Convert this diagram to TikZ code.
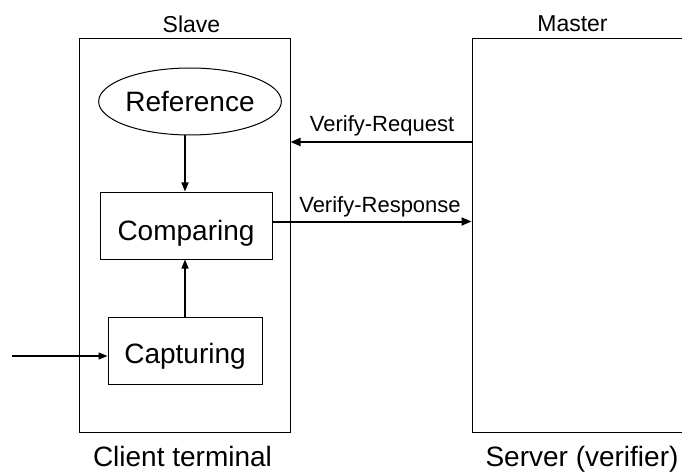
\documentclass[tikz,border=0pt]{standalone}
\usepackage{fontspec}
\setmainfont{Liberation Sans}
\usetikzlibrary{arrows.meta,shapes.geometric}
\begin{document}
\begin{tikzpicture}[x=1pt,y=-1pt,
  big/.style={font=\fontsize{28}{32}\selectfont},
  title/.style={font=\fontsize{23}{26}\selectfont,anchor=base},
  small/.style={font=\fontsize{22}{25}\selectfont,anchor=base},
  frame/.style={draw,line width=1pt,rectangle,inner sep=0pt},
  block/.style={draw,line width=1pt,rectangle,inner sep=0pt,big},
  arr/.style={line width=1.3pt,-{Triangle[length=9pt,width=7pt]}},
  msg/.style={line width=2pt,-{Triangle[length=10pt,width=8pt]}}]
\useasboundingbox (0,0) rectangle (682,473);
\clip (0,0) rectangle (682,473);
% outer frames
\node[frame,minimum width=211pt,minimum height=393pt] (slave) at (184.5,235.5) {};
\node[frame,minimum width=240pt,minimum height=393pt] (master) at (592,235.5) {};
% frame titles and captions
\node[title] (tslave) at (191.5,33) {Slave};
\node[title] (tmaster) at (572.5,32) {Master};
\node[big,anchor=base] (cslave) at (182.5,466) {Client terminal};
\node[big,anchor=base] (cmaster) at (582,466) {Server (verifier)};
% inner blocks
\node[draw,line width=1pt,ellipse,inner sep=0pt,minimum width=164pt,minimum height=67pt,big] (ref) at (190,101.5) {Reference};
\node[block,minimum width=172pt,minimum height=67pt,text height=29pt,text depth=0pt] (cmp) at (186,225.5) {Comparing};
\node[block,minimum width=154pt,minimum height=67pt,text height=25pt,text depth=0pt] (cap) at (185,350.5) {Capturing};
% connectors
\draw[arr] (ref.south -| cap.north) -- (cap.north |- cmp.north);
\draw[arr] (cap.north) -- (cap.north |- cmp.south);
\coordinate (src) at (12,356);
\draw[arr] (src) -- (cap.west |- src);
\coordinate (req) at (0,142);
\coordinate (res) at (0,221.5);
\draw[msg] (master.west |- req) -- (slave.east |- req);
\draw[msg] (cmp.east |- res) -- (master.west |- res);
\node[small] (lreq) at (382,132) {Verify-Request};
\node[small] (lres) at (380,212) {Verify-Response};
\end{tikzpicture}
\end{document}
